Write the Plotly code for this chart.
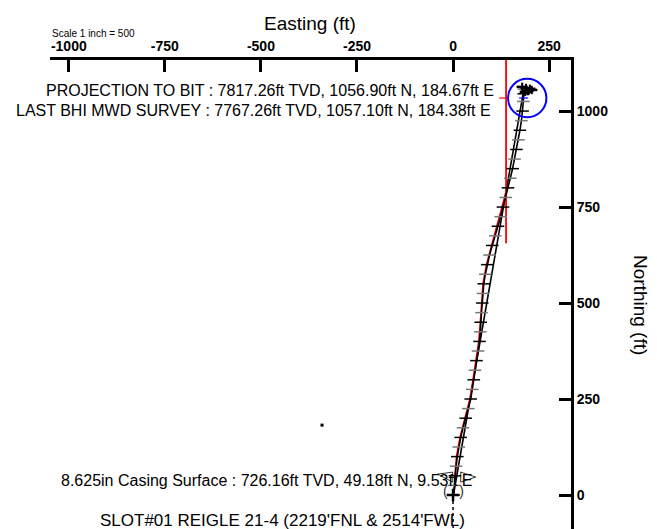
import plotly.graph_objects as go

# ---------------- data (ft) ----------------
survey_N = [0, 25, 50, 75, 100, 125, 150, 175, 200, 225, 250, 275, 300, 325, 350, 375, 400,
            425, 450, 475, 500, 525, 550, 575, 600, 625, 650, 675, 700, 725, 750, 775, 800,
            825, 850, 875, 900, 925, 950, 975, 1000, 1025, 1045, 1057.1]
survey_E = [1, 3, 5, 8, 11, 15, 20, 26, 33, 40, 46, 50, 54, 57, 61, 65, 69,
            71, 72, 74, 76, 78, 80, 84, 89, 95, 102, 110, 117, 124, 130, 137, 143,
            149, 155, 160, 165, 170, 174, 178, 181, 183, 184, 184.38]

plan_N = [40, 100, 150, 200, 250, 300, 350, 400, 450, 500, 550, 600, 650, 700, 750, 790]
plan_E = [4, 9, 18, 31, 44, 52, 59, 67, 71, 74, 78, 87, 100, 115, 128, 138]

straight_N = [0, 1057.1]
straight_E = [1, 184.38]

end_cluster_N = [1063, 1060, 1058, 1055, 1052, 1050]
end_cluster_E = [180, 190, 200, 205, 195, 188]

lease_E = [138, 138]
lease_N = [1133, 656]

target_E, target_N, target_R = 193, 1034, 50
cross_red_E = [120, 160]
cross_blue_E = [172, 197]

slot_E, slot_N = 0, 0
slot_below_N = [0, -110]

casing_E, casing_N = 9.53, 49.18
dot_E, dot_N = -341, 182

x_ticks = [-1000, -750, -500, -250, 0, 250]
x_tick_text = ["-1000", "-750", "-500", "-250", "0", "250"]
y_ticks = [0, 250, 500, 750, 1000]
y_tick_text = ["0", "250", "500", "750", "1000"]
x_range = [-1049, 307]
y_range = [-109.4, 1133]

FONT = "Liberation Sans, Arial, sans-serif"

fig = go.Figure()

fig.add_trace(go.Scatter(x=straight_E, y=straight_N, mode="lines",
                         line=dict(color="black", width=1.6), hoverinfo="skip"))
fig.add_trace(go.Scatter(x=plan_E, y=plan_N, mode="lines",
                         line=dict(color="red", width=1.6), hoverinfo="skip"))
fig.add_trace(go.Scatter(x=lease_E, y=lease_N, mode="lines",
                         line=dict(color="red", width=1.8), hoverinfo="skip"))
tick_colors = ["black" if i % 2 == 0 else "#777777" for i in range(len(survey_N))]
fig.add_trace(go.Scatter(x=survey_E, y=survey_N, mode="lines+markers",
                         line=dict(color="black", width=1.6),
                         marker=dict(symbol="line-ew", size=9,
                                     line=dict(width=1.5, color=tick_colors)),
                         hoverinfo="skip"))
fig.add_trace(go.Scatter(x=end_cluster_E, y=end_cluster_N, mode="markers",
                         marker=dict(symbol="line-ew", size=8, line=dict(width=2.5, color="black")),
                         hoverinfo="skip"))
fig.add_trace(go.Scatter(x=end_cluster_E, y=end_cluster_N, mode="markers",
                         marker=dict(symbol="line-ns", size=6, line=dict(width=2, color="black")),
                         hoverinfo="skip"))
fig.add_trace(go.Scatter(x=cross_red_E, y=[target_N, target_N], mode="lines",
                         line=dict(color="red", width=1.2, dash="dash"), hoverinfo="skip"))
fig.add_trace(go.Scatter(x=cross_blue_E, y=[target_N, target_N], mode="lines",
                         line=dict(color="blue", width=1.2, dash="dash"), hoverinfo="skip"))
fig.add_trace(go.Scatter(x=[slot_E, slot_E], y=slot_below_N, mode="lines",
                         line=dict(color="black", width=1.5, dash="dot"), hoverinfo="skip"))
fig.add_trace(go.Scatter(x=[slot_E], y=[slot_N], mode="markers",
                         marker=dict(symbol="cross-thin", size=9, line=dict(width=2.5, color="black")),
                         hoverinfo="skip"))
fig.add_trace(go.Scatter(x=[dot_E], y=[dot_N], mode="markers",
                         marker=dict(symbol="square", size=3, color="black"), hoverinfo="skip"))

fig.add_shape(type="circle", xref="x", yref="y",
              x0=target_E - target_R, x1=target_E + target_R,
              y0=target_N - target_R, y1=target_N + target_R,
              line=dict(color="blue", width=2))

for p in ["M -4 4 L -19 2 L -4 -6 Z", "M 4 4 L 19 -1 L 4 -6 Z"]:
    fig.add_shape(type="path", xref="x", yref="y", xsizemode="pixel", ysizemode="pixel",
                  xanchor=casing_E, yanchor=casing_N, path=p,
                  line=dict(color="black", width=0.8))
fig.add_annotation(x=casing_E, y=casing_N, xref="x", yref="y", yshift=-15, xshift=-3,
                   text="(\u00a0\u00a0\u00a0)", showarrow=False,
                   font=dict(family=FONT, size=14, color="#333333"))

def pap(px, py):
    return (px - 42) / 521.0, (529 - py) / 477.0

anns = [
    ("PROJECTION TO BIT : 7817.26ft TVD, 1056.90ft N, 184.67ft E", 487, 82, "right", 16),
    ("LAST BHI MWD SURVEY : 7767.26ft TVD, 1057.10ft N, 184.38ft E", 484, 103, "right", 16),
    ("8.625in Casing Surface : 726.16ft TVD, 49.18ft N, 9.53ft E", 466, 472, "right", 16),
    ("SLOT#01 REIGLE 21-4 (2219'FNL & 2514'FWL)", 458, 512, "right", 17),
    ("Easting (ft)", 302, 15, "center", 19),
    ("Scale 1 inch = 500", 43, 26, "left", 10),
]
for t, px, py, xa, sz in anns:
    x, y = pap(px, py)
    fig.add_annotation(x=x, y=y, xref="paper", yref="paper", text=t, showarrow=False,
                       xanchor=xa, yanchor="middle", borderpad=0,
                       font=dict(family=FONT, size=sz, color="black"))
x, y = pap(633, 297)
fig.add_annotation(x=x, y=y, xref="paper", yref="paper", text="Northing (ft)", showarrow=False,
                   textangle=90, xanchor="center", yanchor="middle",
                   font=dict(family=FONT, size=19, color="black"))

axis_common = dict(showline=True, linewidth=3, linecolor="black", ticks="inside",
                   ticklen=12, tickwidth=3, tickcolor="black", showgrid=False,
                   zeroline=False, tickfont=dict(family=FONT, size=14, color="black"))

fig.update_layout(
    width=657, height=529,
    margin=dict(l=42, r=94, t=52, b=0),
    paper_bgcolor="white", plot_bgcolor="white",
    showlegend=False,
    xaxis=dict(range=x_range, side="top", tickvals=x_ticks,
               ticktext=["<b>%s</b>" % t for t in x_tick_text], **axis_common),
    yaxis=dict(range=y_range, side="right", tickvals=y_ticks,
               ticktext=["<b>%s</b>" % t for t in y_tick_text], **axis_common),
)

fig.write_html("out.html")
